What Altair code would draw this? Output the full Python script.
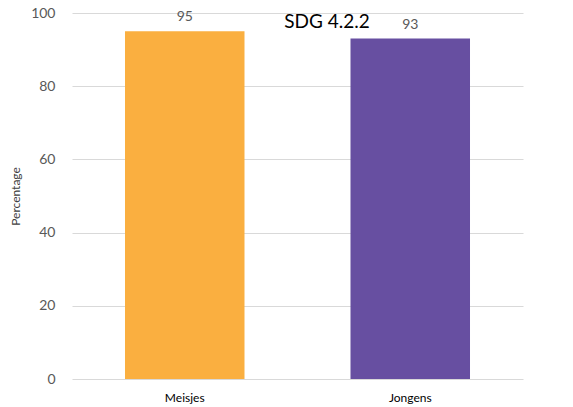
import altair as alt
import pandas as pd

categories = ["Meisjes", "Jongens"]
values = [95, 93]
colors = ["#FAAF40", "#674FA1"]
title_text = ["SDG 4.2.2"]

df = pd.DataFrame({"cat": categories, "val": values})

FONT = "Lato"

x = alt.X("cat:N", sort=categories, title=None,
          scale=alt.Scale(paddingInner=0.47, paddingOuter=0.235),
          axis=alt.Axis(labelAngle=0, labelFontSize=12, labelColor="#000000", labelFont=FONT,
                        ticks=False, domain=False, labelPadding=13))
y = alt.Y("val:Q", title="Percentage",
          scale=alt.Scale(domain=[0, 100]),
          axis=alt.Axis(values=[0, 20, 40, 60, 80, 100], labelFontSize=14, labelColor="#595959",
                        labelFont=FONT, ticks=False, domain=False, gridColor="#D9D9D9",
                        titleFont=FONT, titleFontSize=12, titleFontWeight="normal",
                        titleColor="#404040", labelPadding=17, titlePadding=8))

bars = alt.Chart(df).mark_bar().encode(
    x=x, y=y,
    color=alt.Color("cat:N", scale=alt.Scale(domain=categories, range=colors), legend=None),
)
labels = alt.Chart(df).mark_text(dy=-14, fontSize=14, color="#595959", font=FONT).encode(
    x=alt.X("cat:N", sort=categories), y="val:Q", text="val:Q"
)
title = alt.Chart(pd.DataFrame({"t": title_text})).mark_text(
    fontSize=19, color="#000000", font=FONT
).encode(x=alt.value(255), y=alt.value(9), text="t:N")

chart = (bars + labels + title).properties(
    width=451, height=366,
    autosize=alt.AutoSizeParams(type="none"),
    padding={"left": 64, "top": 5, "right": 42, "bottom": 28},
).configure_view(stroke=None)

chart.save("out.html", embed_options={"renderer": "svg", "actions": False})
